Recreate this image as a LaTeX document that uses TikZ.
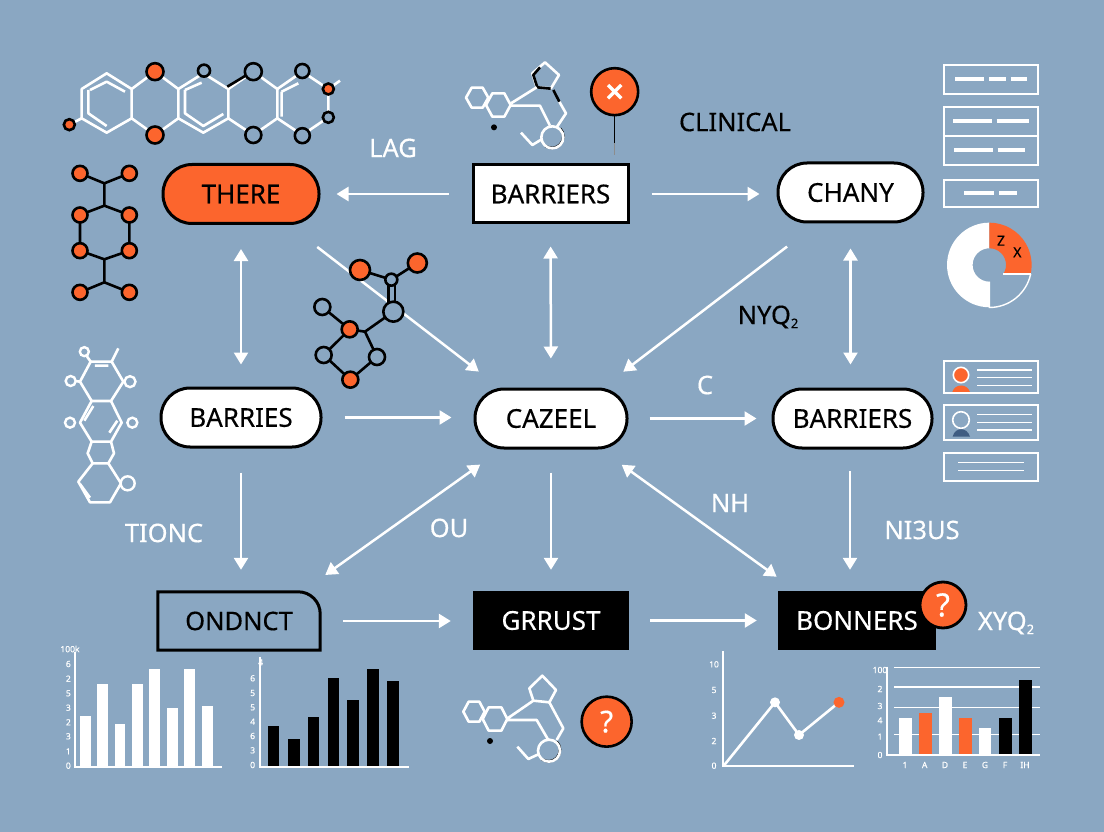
\documentclass[tikz,border=0pt]{standalone}
\usepackage{fontspec}
\setmainfont[FakeBold=0.35]{Noto Sans}
\definecolor{steel1}{RGB}{138, 167, 194}
\definecolor{orange1}{RGB}{252, 101, 45}
\definecolor{navy1}{RGB}{62, 92, 130}
\usetikzlibrary{arrows.meta, positioning}
\newcommand{\subtwo}{\raisebox{-4pt}{\fontsize{13}{14}\selectfont 2}}
\tikzset{
  pillbox/.style={draw=black, line width=3pt, fill=white, rounded corners=29pt, inner sep=0pt, minimum height=59pt, font=\fontsize{26}{28}\selectfont},
  flatbox/.style={draw=black, line width=3pt, fill=white, inner sep=0pt, minimum height=58pt, font=\fontsize{26}{28}\selectfont},
  darkbox/.style={fill=black, text=white, inner sep=0pt, minimum height=59pt, font=\fontsize{26}{28}\selectfont},
  flow/.style={draw=white, line width=2.5pt, -{Triangle[width=14pt,length=12pt]}},
  twoway/.style={draw=white, line width=2.5pt, {Triangle[width=14pt,length=12pt]}-{Triangle[width=14pt,length=12pt]}},
  whitetag/.style={text=white, inner sep=0pt, font=\fontsize{25.5}{28}\selectfont},
  blacktag/.style={text=black, inner sep=0pt, font=\fontsize{25.5}{28}\selectfont},
  tick/.style={text=white, inner sep=0pt, font=\fontsize{8.5}{9}\selectfont},
  wline/.style={draw=white, line width=2.6pt, line join=round},
  kline/.style={draw=black, line width=2.6pt, line join=round},
  atomred/.style={draw=black, line width=2.6pt, fill=orange1},
  atomblue/.style={draw=black, line width=2.6pt, fill=steel1},
  ring/.style={draw=white, line width=2.4pt, fill=steel1},
  chartaxis/.style={draw=white, line width=2pt},
  sheet/.style={draw=white, line width=2pt},
  dashbar/.style={draw=white, line width=3.8pt},
  thinbar/.style={draw=white, line width=1.4pt}
}

\begin{document}
\begin{tikzpicture}[x=1pt, y=-1pt]
  \useasboundingbox (0,0) rectangle (1104,832);
  \fill[steel1] (0,0) rectangle (1104,832);

  % boxes
  \node[pillbox, fill=orange1, minimum width=156pt] (there) at (241,194) {THERE};
  \node[flatbox, minimum width=155pt] (barrierstop) at (550.5,194) {BARRIERS};
  \node[pillbox, minimum width=145pt] (chany) at (850.5,192.5) {CHANY};
  \node[pillbox, minimum width=160pt] (barries) at (241,417.5) {BARRIES};
  \node[pillbox, minimum width=152pt] (cazeel) at (551,418.5) {CAZEEL};
  \node[pillbox, minimum width=159pt] (barriersright) at (852.5,418.5) {BARRIERS};
  \node[inner sep=0pt, minimum width=162pt, minimum height=58pt, font=\fontsize{25.5}{28}\selectfont] (ondnct) at (239,621) {ONDNCT};
  \draw[line width=3pt, rounded corners=0pt] (ondnct.south west) -- (ondnct.north west) [rounded corners=22pt] -- (ondnct.north east) [rounded corners=0pt] -- (ondnct.south east) -- cycle;
  \node[darkbox, minimum width=156pt] (grrust) at (551,620.5) {GRRUST};
  \node[darkbox, minimum width=158pt] (bonners) at (857,620.5) {BONNERS\hspace{7pt}};
  \node[circle, draw=black, line width=2.8pt, fill=orange1, text=white, minimum size=46pt, inner sep=0pt, font=\fontsize{32}{34}\selectfont] (askbonners) at (943,605) {?};

  % arrows
  \draw[flow, shorten <=23pt, shorten >=16pt] (barrierstop) -- (there);
  \draw[flow, shorten <=22pt, shorten >=17pt] (barrierstop) -- (chany.west |- barrierstop);
  \draw[twoway, shorten <=24pt, shorten >=22pt] (there) -- (there |- barries.north);
  \draw[twoway, shorten <=22pt, shorten >=29pt] (barrierstop) -- (cazeel);
  \draw[twoway, shorten <=25pt, shorten >=23pt] (chany) -- (barriersright.north -| chany);
  \draw[flow, shorten <=22pt, shorten >=22pt] (barries.east) -- (cazeel.west |- barries.east);
  \draw[flow, shorten <=21pt, shorten >=15pt] (cazeel) -- (barriersright);
  \draw[flow, shorten <=36pt, shorten >=26pt] (there.-33) -- (cazeel.149);
  \draw[flow, shorten <=38pt, shorten >=26pt] (chany.-137) -- (cazeel.31);
  \draw[flow, shorten <=24pt, shorten >=22pt] (barries.south) -- (ondnct.north -| barries.south);
  \draw[flow, shorten <=23pt, shorten >=21pt] (cazeel) -- (cazeel |- grrust.north);
  \coordinate (rightdrop) at (850,448);
  \draw[flow, shorten <=23pt, shorten >=21pt] (rightdrop) -- (rightdrop |- bonners.north);
  \draw[twoway, shorten <=26pt, shorten >=29pt] (cazeel.212) -- (ondnct.25);
  \draw[twoway, shorten <=26pt, shorten >=24pt] (cazeel.-32) -- (bonners.154);
  \draw[flow, shorten <=23pt, shorten >=22pt] (ondnct.east) -- (grrust.west |- ondnct.east);
  \draw[flow, shorten <=21pt, shorten >=21pt] (grrust) -- (bonners);

  % labels
  \node[whitetag] (lag) at (393,148) {LAG};
  \node[blacktag] (clinical) at (735,122) {CLINICAL};
  \node[blacktag] (nyq) at (768,317) {NYQ\subtwo};
  \node[whitetag] (cee) at (705,385) {C};
  \node[whitetag] (tionc) at (164,533) {TIONC};
  \node[whitetag] (ou) at (449,528) {OU};
  \node[whitetag] (nh) at (730,503) {NH};
  \node[whitetag] (nibus) at (922,530) {NI3US};
  \node[whitetag] (xyq) at (1006,623) {XYQ\subtwo};

  % chain top left
  \begin{scope}[shift={(40,40)}, x=1/3*1pt, y=-1/3*1pt]
    \draw[wline] (125,147) -- (200,100) -- (275,147) -- (275,235) -- (200,278) -- (125,235) -- cycle;
    \draw[wline] (150,150) -- (200,125) -- (255,155) (145,150) -- (145,220) -- (200,258);
    \draw[wline] (275,147) -- (345,95) -- (415,147) -- (415,235) -- (345,285) -- (275,235);
    \draw[wline] (415,147) -- (490,100) -- (565,147) -- (565,235) -- (490,278) -- (415,235);
    \draw[wline] (435,150) -- (485,128) (435,150) -- (435,220) -- (490,258) -- (550,222);
    \draw[wline] (565,147) -- (640,95) -- (712,147) -- (712,235) -- (640,285) -- (565,235);
    \draw[wline] (712,147) -- (787,95) -- (865,147) -- (865,232) -- (787,285) -- (712,235);
    \draw[wline] (725,155) -- (775,130) (725,155) -- (725,230) (865,147) -- (900,122) (125,235) -- (88,254);
    \draw[kline] (562,140) -- (625,102);
    \foreach \xa/\ya/\ra in {345/95/8.5, 345/285/8.5, 88/254/5.5, 865/147/5.5}
      \draw[atomred] (\xa,\ya) circle[radius=\ra pt];
    \foreach \xa/\ya/\ra in {492/92/6, 640/95/8.5, 640/285/8, 787/93/7, 787/287/7.5, 865/232/5.5}
      \draw[atomblue] (\xa,\ya) circle[radius=\ra pt];
  \end{scope}

  % black molecule left
  \begin{scope}[shift={(40,40)}, x=1/3*1pt, y=-1/3*1pt]
    \draw[kline] (120,400) -- (193,430) -- (268,400) (193,430) -- (193,497);
    \draw[kline] (120,525) -- (193,497) -- (268,525) -- (268,632) -- (193,658) -- (120,632) -- cycle;
    \draw[kline] (193,658) -- (193,727) (120,757) -- (193,727) -- (268,757);
    \foreach \xa/\ya in {120/400, 268/400, 120/525, 268/525, 120/632, 268/632, 120/757, 268/757}
      \draw[atomred] (\xa,\ya) circle[radius=7.5pt];
  \end{scope}

  % middle molecule
  \begin{scope}[shift={(300,240)}, x=1/3*1pt, y=-1/3*1pt]
    \draw[kline] (180,90) -- (274,119) -- (352,69);
    \draw[kline] (266,130) -- (266,190) (285,130) -- (285,190);
    \draw[kline] (280,215) -- (195,275) -- (149,268) -- (67,201);
    \draw[kline] (149,268) -- (71,345) -- (151,419) -- (231,351) -- (195,275);
    \foreach \xa/\ya/\ra in {180/90/10, 352/69/9.5, 149/268/8, 151/419/8}
      \draw[atomred] (\xa,\ya) circle[radius=\ra pt];
    \foreach \xa/\ya/\ra in {274/119/6, 280/215/10, 67/201/8, 71/345/8, 231/351/8}
      \draw[atomblue] (\xa,\ya) circle[radius=\ra pt];
  \end{scope}

  % white molecule left
  \begin{scope}[shift={(40,330)}, x=1/3*1pt, y=-1/3*1pt]
    \draw[wline] (152,95) -- (215,95) -- (250,155) -- (213,213) -- (155,213) -- (120,155) -- cycle;
    \draw[wline] (165,107) -- (205,107) (215,95) -- (235,55) (152,95) -- (140,78) (120,155) -- (105,153);
    \draw[wline] (213,213) -- (245,278) -- (213,335) -- (155,335) -- (120,278) -- (155,213);
    \draw[wline] (160,228) -- (133,272) (232,272) -- (208,308);
    \draw[wline] (213,335) -- (222,370) -- (205,400) -- (158,400) -- (143,370) -- (155,335);
    \draw[wline] (205,400) -- (243,460) -- (210,517) -- (150,517) -- (115,455) -- (158,400);
    \draw[wline] (120,462) -- (150,503);
    \foreach \xa/\ya/\ra in {133/65/4.5, 92/153/5, 270/155/5.5, 90/278/5, 277/278/5, 263/460/7}
      \draw[ring] (\xa,\ya) circle[radius=\ra pt];
  \end{scope}

  % molecule over barriers, with pin
  \begin{scope}[shift={(440,40)}, x=1/3*1pt, y=-1/3*1pt]
    \draw[wline] (78,173) -- (95,143) -- (128,143) -- (145,173) -- (128,203) -- (95,203) -- cycle;
    \draw[wline] (138,195) -- (157,160) -- (193,160) -- (212,195) -- (193,230) -- (157,230) -- cycle;
    \draw[wline] (315,67) -- (357,105) -- (333,145) -- (290,142) -- (277,100) -- cycle;
    \draw[kline] (300,82) -- (280,105) -- (292,142) -- (332,146);
    \draw[wline] (213,190) -- (290,142) (213,197) -- (300,197) -- (330,257);
    \draw[wline] (358,185) -- (378,220) -- (350,262) (243,278) -- (277,315) -- (305,298);
    \draw[kline] (340,150) -- (358,185);
    \draw[kline] (360,265) arc[start angle=45, end angle=-125, radius=11.5pt];
    \draw[wline] (337,292) circle[radius=11pt];
    \fill[black] (162,262) circle[radius=3pt];
    \draw[black, line width=1.6pt] (524,228) -- (524,310);
    \draw[black!45, line width=1pt] (524,310) -- (524,345);
    \node[circle, draw=black, line width=2.6pt, fill=orange1, minimum size=47pt, inner sep=0pt] (pin) at (524,155) {};
    \draw[white, line width=3.4pt] (504,135) -- (544,175) (544,135) -- (504,175);
  \end{scope}

  % molecule under grrust
  \begin{scope}[shift={(440,660)}, x=1/3*1pt, y=-1/3*1pt]
    \draw[wline] (70,155) -- (86,125) -- (118,125) -- (134,155) -- (118,185) -- (86,185) -- cycle;
    \draw[wline] (128,177) -- (146,142) -- (184,142) -- (202,177) -- (184,212) -- (146,212) -- cycle;
    \draw[wline] (307,47) -- (348,90) -- (328,127) -- (280,122) -- (268,85) -- cycle;
    \draw[wline] (200,177) -- (280,122) (200,180) -- (290,180) -- (325,240);
    \draw[wline] (328,127) -- (370,205) -- (350,240) (232,260) -- (265,297) -- (295,283);
    \draw[kline] (350,245) arc[start angle=45, end angle=-125, radius=11.5pt];
    \draw[wline] (327,272) circle[radius=11pt];
    \fill[black] (150,243) circle[radius=3pt];
    \node[circle, draw=black, line width=2.6pt, fill=orange1, text=white, minimum size=50pt, inner sep=0pt, font=\bfseries\fontsize{30}{32}\selectfont] (askmol) at (500,185) {?};
  \end{scope}

  % right column
  \begin{scope}[shift={(920,50)}, x=1/3*1pt, y=-1/3*1pt]
    \draw[sheet] (73,45) rectangle (355,132);
    \draw[dashbar] (105,88) -- (193,88) (207,88) -- (257,88) (272,88) -- (320,88);
    \draw[sheet] (73,172) rectangle (355,345) (73,258) -- (355,258);
    \draw[dashbar] (100,214) -- (216,214) (230,214) -- (328,214) (103,300) -- (218,300) (233,300) -- (316,300);
    \draw[sheet] (73,390) rectangle (355,472);
    \draw[dashbar] (132,429) -- (222,429) (237,429) -- (291,429);
    % ring chart
    \fill[white] (208,518) arc[start angle=90, end angle=270, radius=42.3pt] -- (208,695) arc[start angle=270, end angle=90, radius=16.7pt] -- cycle;
    \fill[orange1] (208,518) arc[start angle=90, end angle=-12, radius=42.3pt] -- (250,672) arc[start angle=-33, end angle=90, radius=16.7pt] -- cycle;
    \draw[white, line width=1.4pt] (332,672) arc[start angle=-12, end angle=-90, radius=42.3pt] -- (208,695);
    \draw[white, line width=1.6pt] (332,672) -- (250,672);
    \node[text=black, inner sep=0pt, font=\bfseries\fontsize{14}{15}\selectfont] (zeta) at (243,572) {Z};
    \node[text=black, inner sep=0pt, font=\bfseries\fontsize{14}{15}\selectfont] (chi) at (292,607) {X};
    % cards
    \draw[sheet] (73,932) rectangle (355,1030);
    \fill[orange1] (97,1026) .. controls (105,1000) and (141,1000) .. (150,1026) -- cycle;
    \draw[white, line width=1.6pt, fill=orange1] (123,975) circle[radius=7.7pt];
    \draw[thinbar] (172,960) -- (335,960) (172,983) -- (335,983) (172,1006) -- (335,1006);
    \draw[sheet] (73,1065) rectangle (355,1170);
    \fill[navy1] (98,1160) .. controls (105,1130) and (141,1130) .. (150,1160) -- cycle;
    \draw[white, line width=1.6pt, fill=steel1] (123,1110) circle[radius=8.3pt];
    \draw[thinbar] (172,1094) -- (335,1094) (172,1117) -- (335,1117) (172,1140) -- (335,1140);
    \draw[sheet] (73,1208) rectangle (355,1292);
    \draw[thinbar] (115,1238) -- (313,1238) (115,1262) -- (313,1262);
  \end{scope}

  % bar charts bottom left
  \begin{scope}[shift={(40,630)}, x=1/3*1pt, y=-1/3*1pt]
    \draw[chartaxis] (105,65) -- (105,410) -- (545,410);
    \foreach \xa/\ya in {120/258, 172/162, 224/283, 277/162, 328/117, 381/235, 433/116, 487/229}
      \fill[white] (\xa,\ya) rectangle (\xa+32,410);
    \foreach \ya/\ta in {102/6, 146/2, 190/5, 233/3, 277/2, 319/3, 364/1, 407/0}
      \node[tick] at (85,\ya) {\ta};
    \node[tick] (topleft) at (90,57) {100k};
    \draw[chartaxis] (660,80) -- (660,410) -- (1108,410);
    \foreach \xa/\ya in {683/288, 745/328, 804/262, 863/145, 922/210, 982/117, 1042/152}
      \fill[black] (\xa,\ya) rectangle (\xa+34,408);
    \foreach \ya/\ta in {145/6, 189/5, 232/5, 275/4, 318/6, 361/3, 405/0}
      \node[tick] at (638,\ya) {\ta};
    \node[tick] (topnext) at (662,97) {4};
  \end{scope}

  % charts bottom right
  \begin{scope}[shift={(690,570)}, x=1/3*1pt, y=-1/3*1pt]
    \draw[chartaxis] (100,243) -- (100,588) -- (492,588);
    \draw[wline] (103,585) -- (255,397) -- (327,495) -- (447,397);
    \fill[white] (255,397) circle[radius=5pt] (327,495) circle[radius=5pt];
    \fill[orange1] (447,397) circle[radius=5.5pt];
    \foreach \ya/\ta in {283/10, 360/5, 437/3, 513/2, 587/0}
      \node[tick] at (72,\ya) {\ta};
    \foreach \ya in {292, 351, 412, 493}
      \draw[white, line width=1.2pt] (612,\ya) -- (1050,\ya);
    \draw[chartaxis] (592,290) -- (592,555) -- (1050,555);
    \foreach \xa/\ya/\ca in {627/443/white, 687/430/orange1, 747/381/white, 807/443/orange1, 866/475/white, 927/443/black, 987/330/black}
      \fill[\ca] (\xa,\ya) rectangle (\xa+38,553);
    \foreach \ya/\ta in {300/100, 357/2, 408/3, 451/4, 500/1, 555/0}
      \node[tick] at (570,\ya) {\ta};
    \foreach \xa/\ta in {645/1, 704/A, 765/D, 825/E, 885/G, 945/F, 1005/IH}
      \node[tick] at (\xa,585) {\ta};
  \end{scope}
\end{tikzpicture}
\end{document}
